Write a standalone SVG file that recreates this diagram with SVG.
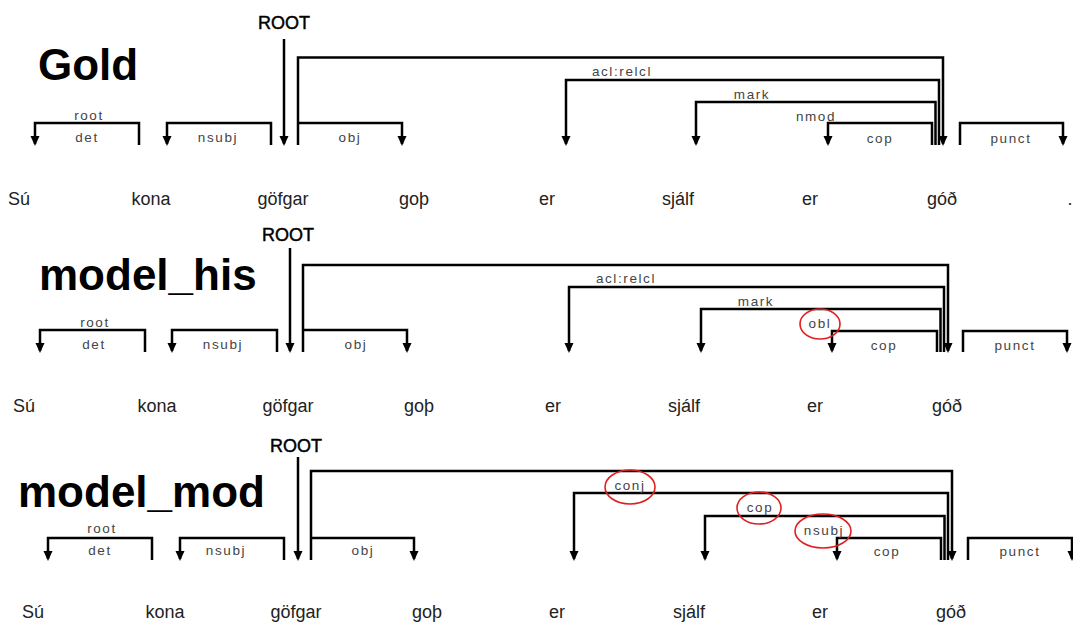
<svg xmlns="http://www.w3.org/2000/svg" width="1073" height="622" viewBox="0 0 1073 622">
<defs>
<marker id="arr" viewBox="0 0 10 10" refX="8" refY="5" markerWidth="10" markerHeight="10" markerUnits="userSpaceOnUse" orient="auto">
<path d="M0,0.5 L10,5 L0,9.5 z" fill="#000"/>
</marker>
<style>
.title{font-family:"Liberation Sans",Arial,sans-serif;font-weight:bold;font-size:44px;fill:#000}
.root{font-family:"Liberation Sans",Arial,sans-serif;font-size:18px;fill:#000;stroke:#000;stroke-width:0.45;text-anchor:middle}
.word{font-family:"Liberation Sans",Arial,sans-serif;font-size:18px;fill:#222;text-anchor:middle}
.lab{font-family:"Liberation Sans",Arial,sans-serif;font-size:13.5px;fill:#444;letter-spacing:1.6px;text-anchor:middle}
.arc{fill:none;stroke:#000;stroke-width:2.5}
.arw{fill:none;stroke:#000;stroke-width:2.5;marker-end:url(#arr)}
.mark{fill:none;stroke:#e02020;stroke-width:1.6}
</style>
</defs>
<rect width="1073" height="622" fill="#fff"/>

<!-- Panel 1: Gold -->
<g id="panel-gold">
<text class="title" x="38" y="80">Gold</text>
<g id="g-root"><text class="root" x="284" y="29">ROOT</text></g>
<g id="g-w1"><text class="word" x="19" y="205">Sú</text></g>
<g id="g-w2"><text class="word" x="151" y="205">kona</text></g>
<g id="g-w3"><text class="word" x="283" y="205">göfgar</text></g>
<g id="g-w4"><text class="word" x="414" y="205">goþ</text></g>
<g id="g-w5"><text class="word" x="547" y="205">er</text></g>
<g id="g-w6"><text class="word" x="678" y="205">sjálf</text></g>
<g id="g-w7"><text class="word" x="810" y="205">er</text></g>
<g id="g-w8"><text class="word" x="942" y="205">góð</text></g>
<g id="g-w9"><text class="word" x="1070" y="205">.</text></g>
<g id="g-connectors">
<path class="arw" d="M284,39 V144"/>
<path class="arw" d="M298,145 V57.5 H943 V144"/>
<path class="arw" d="M298,123 H402 V144"/>
<path class="arw" d="M139,145 V123 H35 V144"/>
<path class="arw" d="M271,145 V123 H167 V144"/>
<path class="arw" d="M939,145 V80 H566 V144"/>
<path class="arw" d="M935.5,145 V102 H696 V144"/>
<path class="arw" d="M932,145 V123 H828 V144"/>
<path class="arw" d="M960,145 V123 H1063 V144"/>
<text class="lab" x="89" y="120">root</text>
<text class="lab" x="87" y="142">det</text>
<text class="lab" x="218" y="142">nsubj</text>
<text class="lab" x="350" y="142">obj</text>
<text class="lab" x="622" y="76">acl:relcl</text>
<text class="lab" x="752" y="99">mark</text>
<text class="lab" x="816" y="121">nmod</text>
<text class="lab" x="880" y="143">cop</text>
<text class="lab" x="1011" y="143">punct</text>
</g>
</g>

<!-- Panel 2: model_his -->
<g id="panel-his">
<text class="title" x="39" y="290">model_his</text>
<g id="h-root"><text class="root" x="288" y="241">ROOT</text></g>
<g id="h-w1"><text class="word" x="24" y="412">Sú</text></g>
<g id="h-w2"><text class="word" x="157" y="412">kona</text></g>
<g id="h-w3"><text class="word" x="288" y="412">göfgar</text></g>
<g id="h-w4"><text class="word" x="419" y="412">goþ</text></g>
<g id="h-w5"><text class="word" x="553" y="412">er</text></g>
<g id="h-w6"><text class="word" x="684" y="412">sjálf</text></g>
<g id="h-w7"><text class="word" x="815" y="412">er</text></g>
<g id="h-w8"><text class="word" x="947" y="412">góð</text></g>
<g id="h-connectors">
<path class="arw" d="M290,248 V351"/>
<path class="arw" d="M303,352 V265 H948 V351"/>
<path class="arw" d="M303,330 H407 V351"/>
<path class="arw" d="M145,352 V330 H40 V351"/>
<path class="arw" d="M277,352 V330 H172 V351"/>
<path class="arw" d="M944,352 V287 H569 V351"/>
<path class="arw" d="M940.5,352 V309 H701 V351"/>
<path class="arw" d="M937,352 V331 H832 V351"/>
<path class="arw" d="M963,352 V331 H1067 V351"/>
<text class="lab" x="95" y="327">root</text>
<text class="lab" x="94" y="349">det</text>
<text class="lab" x="223" y="349">nsubj</text>
<text class="lab" x="356" y="349">obj</text>
<text class="lab" x="626" y="283">acl:relcl</text>
<text class="lab" x="756" y="306">mark</text>
<text class="lab" x="820" y="328">obl</text>
<text class="lab" x="884" y="350">cop</text>
<text class="lab" x="1015" y="350">punct</text>
<ellipse class="mark" cx="820" cy="324" rx="20" ry="15"/>
</g>
</g>

<!-- Panel 3: model_mod -->
<g id="panel-mod">
<text class="title" x="18" y="507">model_mod</text>
<g id="m-root"><text class="root" x="296" y="452">ROOT</text></g>
<g id="m-w1"><text class="word" x="33" y="618">Sú</text></g>
<g id="m-w2"><text class="word" x="165" y="618">kona</text></g>
<g id="m-w3"><text class="word" x="296" y="618">göfgar</text></g>
<g id="m-w4"><text class="word" x="427" y="618">goþ</text></g>
<g id="m-w5"><text class="word" x="557" y="618">er</text></g>
<g id="m-w6"><text class="word" x="689" y="618">sjálf</text></g>
<g id="m-w7"><text class="word" x="820" y="618">er</text></g>
<g id="m-w8"><text class="word" x="951" y="618">góð</text></g>
<g id="m-connectors">
<path class="arw" d="M298,457 V559"/>
<path class="arw" d="M311,560 V471 H952 V559"/>
<path class="arw" d="M311,538 H414 V559"/>
<path class="arw" d="M152,560 V538 H48 V559"/>
<path class="arw" d="M284,560 V538 H180 V559"/>
<path class="arw" d="M948,560 V493 H574 V559"/>
<path class="arw" d="M944.5,560 V516 H705 V559"/>
<path class="arw" d="M941,560 V538 H837 V559"/>
<path class="arw" d="M968,560 V538 H1072 V559"/>
<text class="lab" x="102" y="533">root</text>
<text class="lab" x="100" y="555">det</text>
<text class="lab" x="226" y="555">nsubj</text>
<text class="lab" x="363" y="555">obj</text>
<text class="lab" x="630" y="490">conj</text>
<text class="lab" x="760" y="512">cop</text>
<text class="lab" x="824" y="535">nsubj</text>
<text class="lab" x="887" y="556">cop</text>
<text class="lab" x="1020" y="556">punct</text>
<ellipse class="mark" cx="630" cy="487" rx="25" ry="17"/>
<ellipse class="mark" cx="759" cy="508" rx="22" ry="16"/>
<ellipse class="mark" cx="823" cy="531" rx="28" ry="17"/>
</g>
</g>
</svg>
